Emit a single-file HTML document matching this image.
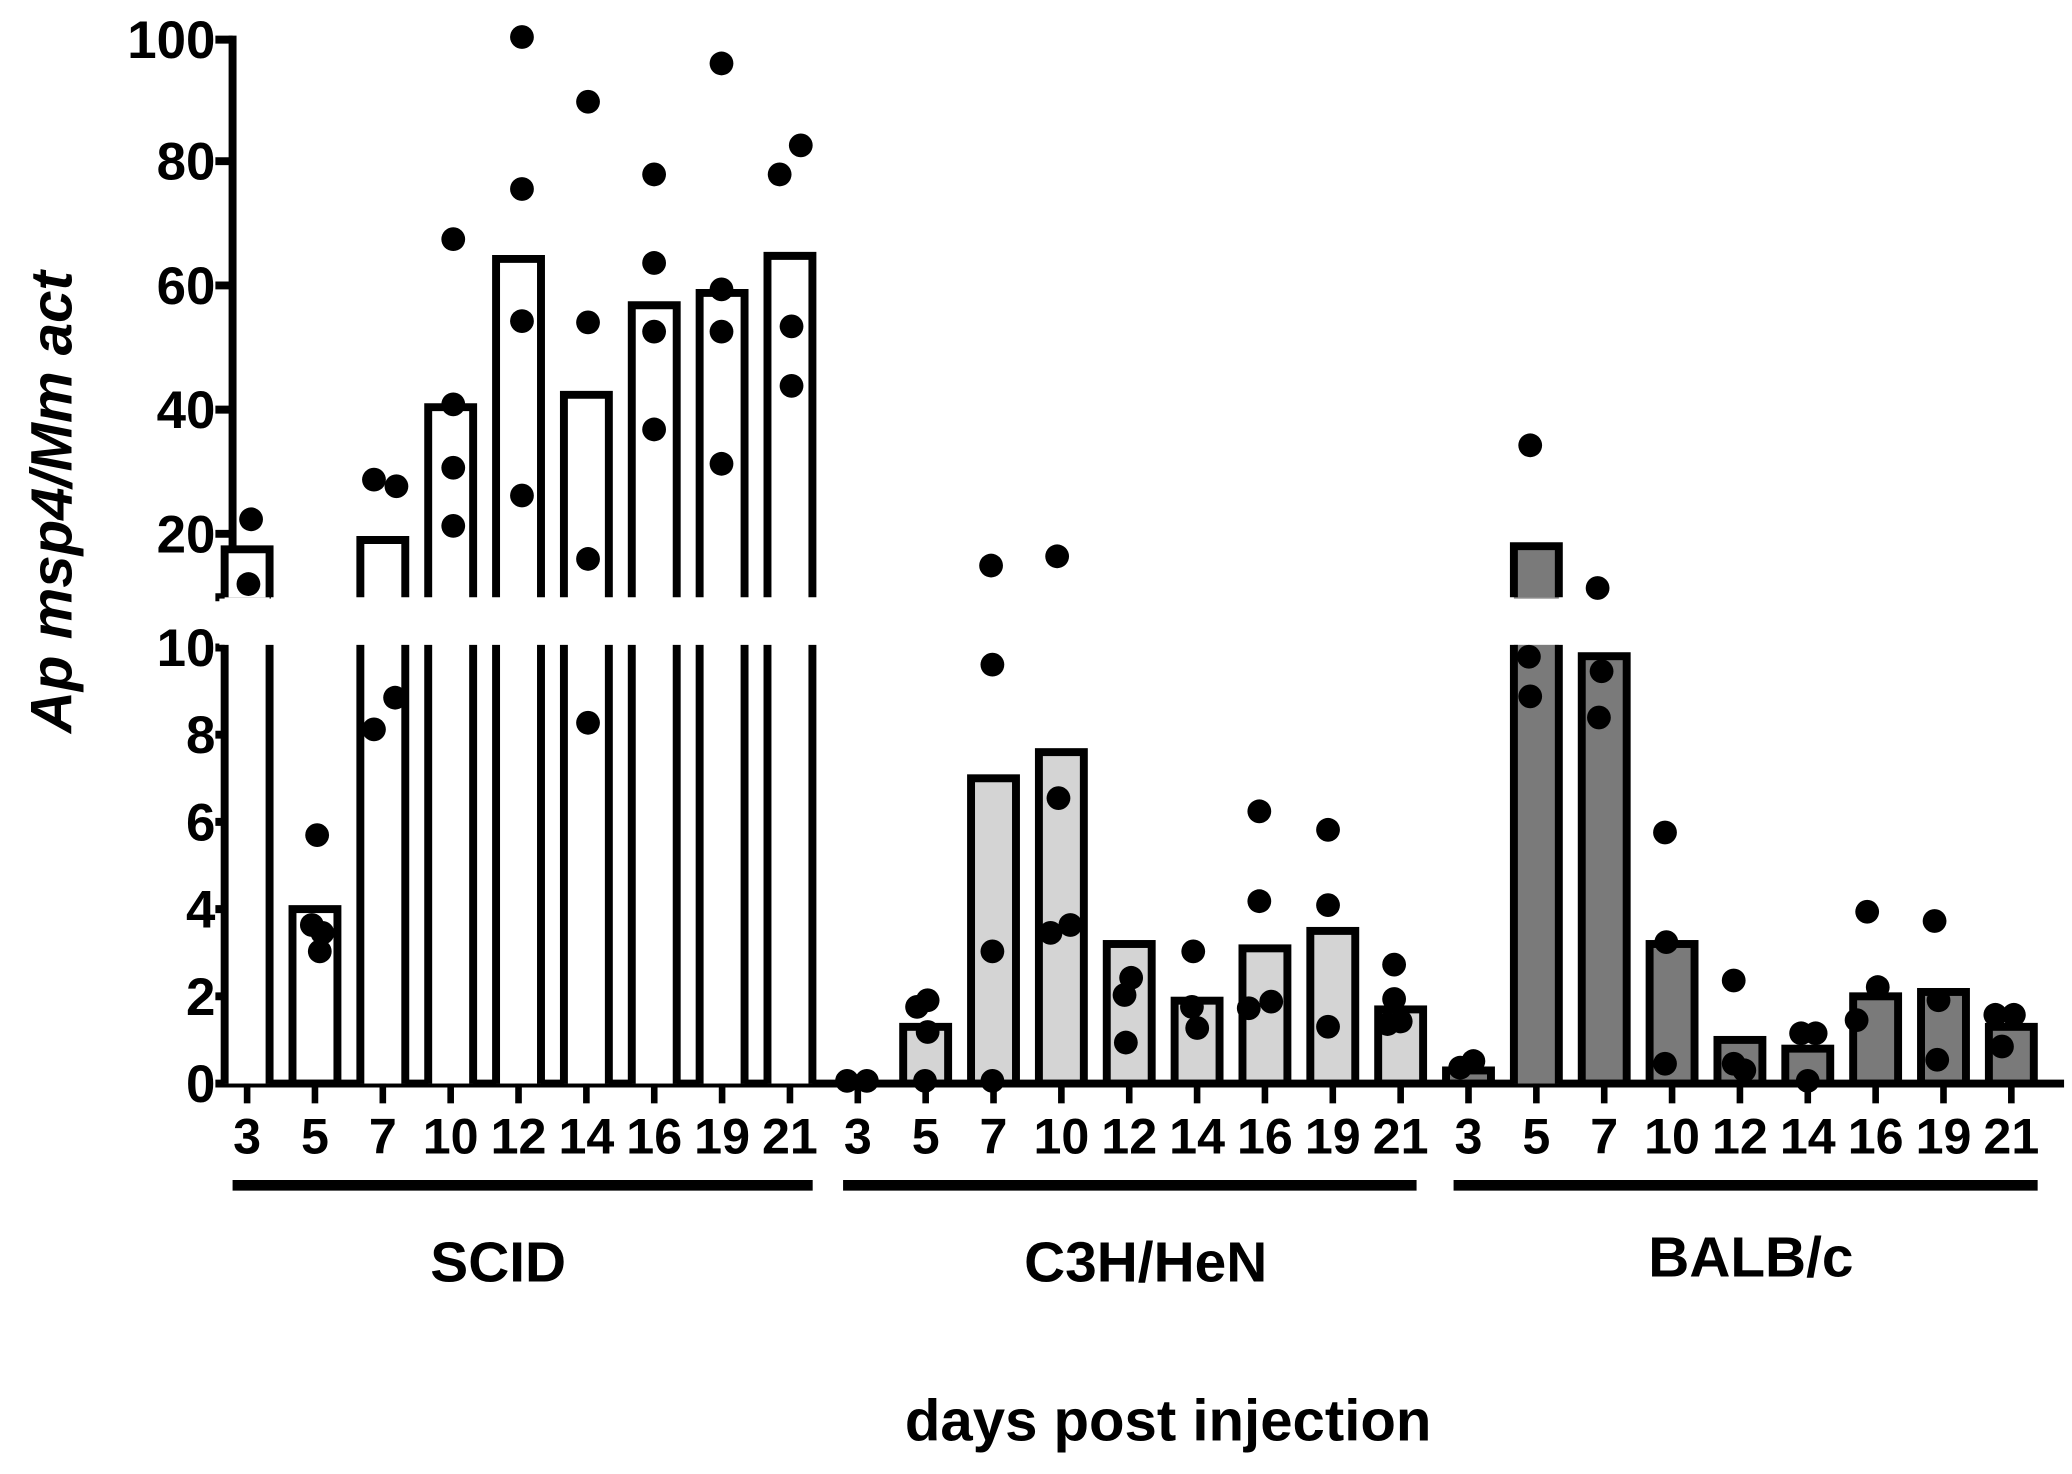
<!DOCTYPE html>
<html><head><meta charset="utf-8"><style>
html,body{margin:0;padding:0;background:#fff;}
svg{display:block;}
text{font-family:"Liberation Sans",Arial,sans-serif;font-weight:bold;fill:#000;}
</style></head><body>
<svg width="2072" height="1474" viewBox="0 0 1568 1115.5" preserveAspectRatio="none" xmlns="http://www.w3.org/2000/svg">
<rect width="1568" height="1115.5" fill="#fff"/>
<g stroke="#000" stroke-width="6" fill="none" id="axes">
<line x1="176" y1="27" x2="176" y2="452"/>
<line x1="163" y1="452" x2="205" y2="452"/>
<line x1="176" y1="488" x2="176" y2="823"/>
<line x1="163" y1="30" x2="176" y2="30"/>
<line x1="163" y1="122" x2="176" y2="122"/>
<line x1="163" y1="216" x2="176" y2="216"/>
<line x1="163" y1="310" x2="176" y2="310"/>
<line x1="163" y1="404" x2="176" y2="404"/>
<line x1="163" y1="490" x2="176" y2="490"/>
<line x1="163" y1="556" x2="176" y2="556"/>
<line x1="163" y1="622" x2="176" y2="622"/>
<line x1="163" y1="688" x2="176" y2="688"/>
<line x1="163" y1="754" x2="176" y2="754"/>
<line x1="163" y1="820" x2="1562" y2="820"/>
</g>
<g font-size="40" text-anchor="end">
<text x="163" y="44">100</text><text x="163" y="136">80</text><text x="163" y="230">60</text>
<text x="163" y="324">40</text><text x="163" y="418">20</text>
<text x="163" y="504">10</text><text x="163" y="570">8</text><text x="163" y="636">6</text>
<text x="163" y="702">4</text><text x="163" y="768">2</text><text x="163" y="834">0</text>
</g>
<text transform="translate(54,380) rotate(-90)" font-size="44" text-anchor="middle" font-style="italic">Ap msp4/Mm act</text>
<g id="bars"></g>
<g id="dots" fill="#000"></g>
<g id="ticks" stroke="#000" stroke-width="5"></g>
<g id="xl" font-size="38" text-anchor="middle"></g>
<g stroke="#000" stroke-width="8">
<line x1="176" y1="897" x2="615" y2="897"/>
<line x1="638" y1="897" x2="1072" y2="897"/>
<line x1="1100" y1="897" x2="1542" y2="897"/>
</g>
<g font-size="43" text-anchor="middle">
<text x="377" y="970">SCID</text>
<text x="867" y="970">C3H/HeN</text>
<text x="1325" y="966">BALB/c</text>
<text x="884" y="1090" font-size="44">days post injection</text>
</g>
<script>
var NS="http://www.w3.org/2000/svg";
function el(p,t,a){var e=document.createElementNS(NS,t);for(var k in a)e.setAttribute(k,a[k]);p.appendChild(e);return e;}
var bars=document.getElementById('bars'),dots=document.getElementById('dots'),ticks=document.getElementById('ticks'),xl=document.getElementById('xl');
var days=[3,5,7,10,12,14,16,19,21];
var vals=[17.5,4.0,19,40.5,64.5,42.5,57,59,65, 0,1.3,7.0,7.6,3.2,1.9,3.1,3.5,1.7, 0.3,18,9.8,3.2,1.0,0.8,2.0,2.1,1.3];
function yU(v){return 30+(100-v)*4.675;}
function yL(v){return 820-v*33;}
for(var i=0;i<27;i++){
 var x=187+i*51.35, g=Math.floor(i/9), v=vals[i];
 var fill=g==0?'#fff':(g==1?'#d4d4d4':'#7a7a7a');
 var w=17;
 el(ticks,'line',{x1:x,y1:820,x2:x,y2:835});
 var t=el(xl,'text',{x:x,y:873});t.textContent=days[i%9];
 if(v>10){
  el(bars,'rect',{x:x-w,y:452,width:2*w,height:368,fill:fill,stroke:'none'});
  el(bars,'rect',{x:x-w,y:yU(v),width:2*w,height:452-yU(v),fill:fill,stroke:'none'});
  el(bars,'rect',{x:x-w-4,y:453,width:2*w+8,height:35,fill:'#fff',stroke:'none'});
  el(bars,'path',{d:'M'+(x-w)+' 452 V'+yU(v)+' H'+(x+w)+' V452',fill:'none',stroke:'#000','stroke-width':6});
  el(bars,'path',{d:'M'+(x-w)+' 488 V820 M'+(x+w)+' 488 V820',fill:'none',stroke:'#000','stroke-width':6});
 } else {
  var y=yL(v);
  el(bars,'rect',{x:x-w,y:y,width:2*w,height:820-y,fill:fill,stroke:'#000','stroke-width':6});
 }
}
var D=[[190,393],[188,442],[240,632],[236,700],[244,706],[242,720],[283,363],[300,368],[283,552],[299,528],
[343,181],[343,306],[343,354],[343,398],[395,28],[395,143],[395,243],[395,375],[445,77],[445,244],[445,423],[445,547],
[495,132],[495,199],[495,251],[495,325],[546,48],[546,219],[546,251],[546,351],[590,132],[606,110],[599,247],[599,292],
[641,818],[656,818],[702,757],[694,762],[702,781],[700,818],[750,428],[751,503],[751,720],[751,818],
[800,421],[801,604],[795,706],[810,700],[851,753],[856,740],[852,789],[903,720],[902,762],[906,778],
[953,614],[953,682],[945,763],[962,758],[1005,628],[1005,685],[1005,777],[1055,730],[1055,756],[1050,775],[1060,773],
[1105,808],[1115,803],[1158,337],[1157,497],[1158,527],[1209,445],[1212,508],[1210,543],[1260,630],[1261,713],[1260,805],
[1312,742],[1312,805],[1320,810],[1363,782],[1374,782],[1368,818],[1413,690],[1421,747],[1405,772],
[1464,697],[1467,757],[1466,802],[1510,768],[1524,768],[1515,792]];
D.forEach(function(p){el(dots,'circle',{cx:p[0],cy:p[1],r:9});});
</script>
</svg>
</body></html>
